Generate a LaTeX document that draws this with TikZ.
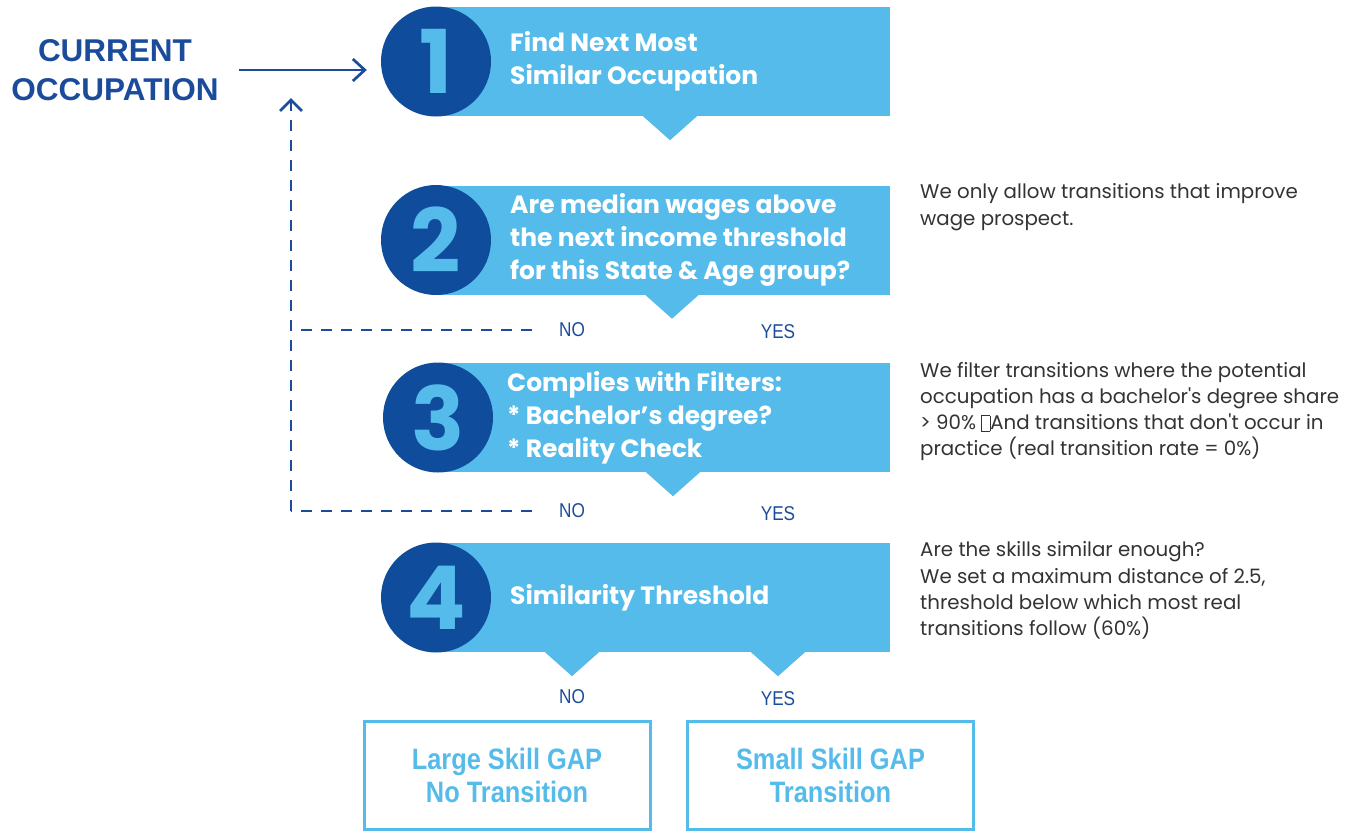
\documentclass[tikz,border=0pt]{standalone}
\usepackage{fontspec}
\setmainfont{Poppins}
\newfontfamily\headfont{Liberation Sans}
\newfontfamily\condfont[FakeStretch=0.86]{Liberation Sans}
\usetikzlibrary{positioning, arrows.meta}

\definecolor{skyblue}{HTML}{55BBEA}
\definecolor{navy}{HTML}{0F4C9B}
\definecolor{inkblue}{HTML}{1B4C9C}
\definecolor{notegray}{HTML}{333333}

\newcommand{\tofu}{\raisebox{-0.05em}{\fboxsep=0pt\fboxrule=0.5pt\fbox{\rule{0pt}{0.75em}\hspace{0.4em}}}}

\begin{document}
\begin{tikzpicture}[
    x=1pt, y=-1pt,
    stepbox/.style={fill=skyblue, minimum width=454pt, minimum height=109pt, inner sep=0pt},
    numcircle/.style={circle, fill=navy, minimum size=110pt, inner sep=0pt, text=skyblue,
                      font=\fontsize{88}{88}\selectfont\bfseries},
    steptext/.style={anchor=west, align=left, text=white, inner sep=0pt,
                     font=\fontsize{25}{33}\selectfont\bfseries},
    note/.style={anchor=west, align=left, inner sep=0pt, text=notegray,
                 font=\fontsize{19.8}{26.3}\selectfont},
    answer/.style={text=inkblue, inner sep=0pt, font=\condfont\fontsize{20}{20}\selectfont},
    outcome/.style={draw=skyblue, line width=3pt, minimum width=286pt, minimum height=108pt,
                    align=center, text=skyblue, font=\condfont\bfseries\fontsize{29.5}{33}\selectfont},
    flow/.style={draw=inkblue, line width=2.7pt, -{Straight Barb[length=12pt, width=22pt]}},
    loopback/.style={draw=inkblue, line width=2.7pt, dash pattern=on 11pt off 9pt},
    pointer/.style={fill=skyblue}
]
\useasboundingbox (0,0) rectangle (1361,831);

% Step 1
\node[stepbox] (box1) at (663,61.5) {};
\fill[pointer] ([xshift=-20pt]box1.south) -- ++(27,24) -- ++(27,-24) -- cycle;
\node[numcircle] (num1) at (436,61.5) {1};
\node[steptext] (text1) at (510,61.5) {Find Next Most\\Similar Occupation};

% Step 2
\node[stepbox] (box2) at (663,240) {};
\fill[pointer] ([xshift=-18pt]box2.south) -- ++(27,24) -- ++(27,-24) -- cycle;
\node[numcircle] (num2) at (436,240) {2};
\node[steptext] (text2) at (510,240) {Are median wages above\\the next income threshold\\for this State \& Age group?};

% Step 3
\node[stepbox] (box3) at (663,417.5) {};
\fill[pointer] ([xshift=-17pt]box3.south) -- ++(27,24) -- ++(27,-24) -- cycle;
\node[numcircle] (num3) at (438,417.5) {3};
\node[steptext] (text3) at (507,417.5) {Complies with Filters:\\* Bachelor’s degree?\\* Reality Check};

% Step 4
\node[stepbox] (box4) at (663,597.5) {};
\fill[pointer] ([xshift=-118pt]box4.south) -- ++(27,24) -- ++(27,-24) -- cycle;
\fill[pointer] ([xshift=88pt]box4.south) -- ++(27,24) -- ++(27,-24) -- cycle;
\node[numcircle] (num4) at (436,597.5) {4};
\node[steptext] (text4) at (510,597.5) {Similarity Threshold};

% Answers
\node[answer] (no2) at (572,330) {NO};
\node[answer] (yes2) at (778,332) {YES};
\node[answer] (no3) at (572,511) {NO};
\node[answer] (yes3) at (778,514) {YES};
\node[answer] (no4) at (572,697) {NO};
\node[answer] (yes4) at (778,699) {YES};

% Outcomes
\node[outcome] (large) at (507,775) {Large Skill GAP\\No Transition};
\node[outcome] (small) at (830.5,775) {Small Skill GAP\\Transition};

% Start
\node[text=inkblue, align=center, inner sep=0pt,
      font=\headfont\bfseries\fontsize{31.5}{39}\selectfont] (current) at (115,70) {CURRENT\\OCCUPATION};
\draw[flow, shorten <=20pt, shorten >=14pt] (current.east) -- (current.east -| num1.west);

% Back to start
\coordinate (ret) at (291,98);
\draw[loopback, shorten <=27pt] (no2.west) -- (no2.west -| ret);
\draw[loopback, shorten <=27pt] (no3.west) -- (no3.west -| ret);
\draw[loopback, -{Straight Barb[length=11pt, width=22pt]}] (no3.west -| ret) -- (ret);

% Notes
\node[note] (note2) at (920,207) {We only allow transitions that improve\\wage prospect.};
\node[note] (note3) at (920,411.5) {We filter transitions where the potential\\occupation has a bachelor\textquotesingle s degree share\\> 90\% \tofu{}And transitions that don\textquotesingle t occur in\\practice (real transition rate = 0\%)};
\node[note] (note4) at (920,590.5) {Are the skills similar enough?\\We set a maximum distance of 2.5,\\threshold below which most real\\transitions follow (60\%)};

\end{tikzpicture}
\end{document}
